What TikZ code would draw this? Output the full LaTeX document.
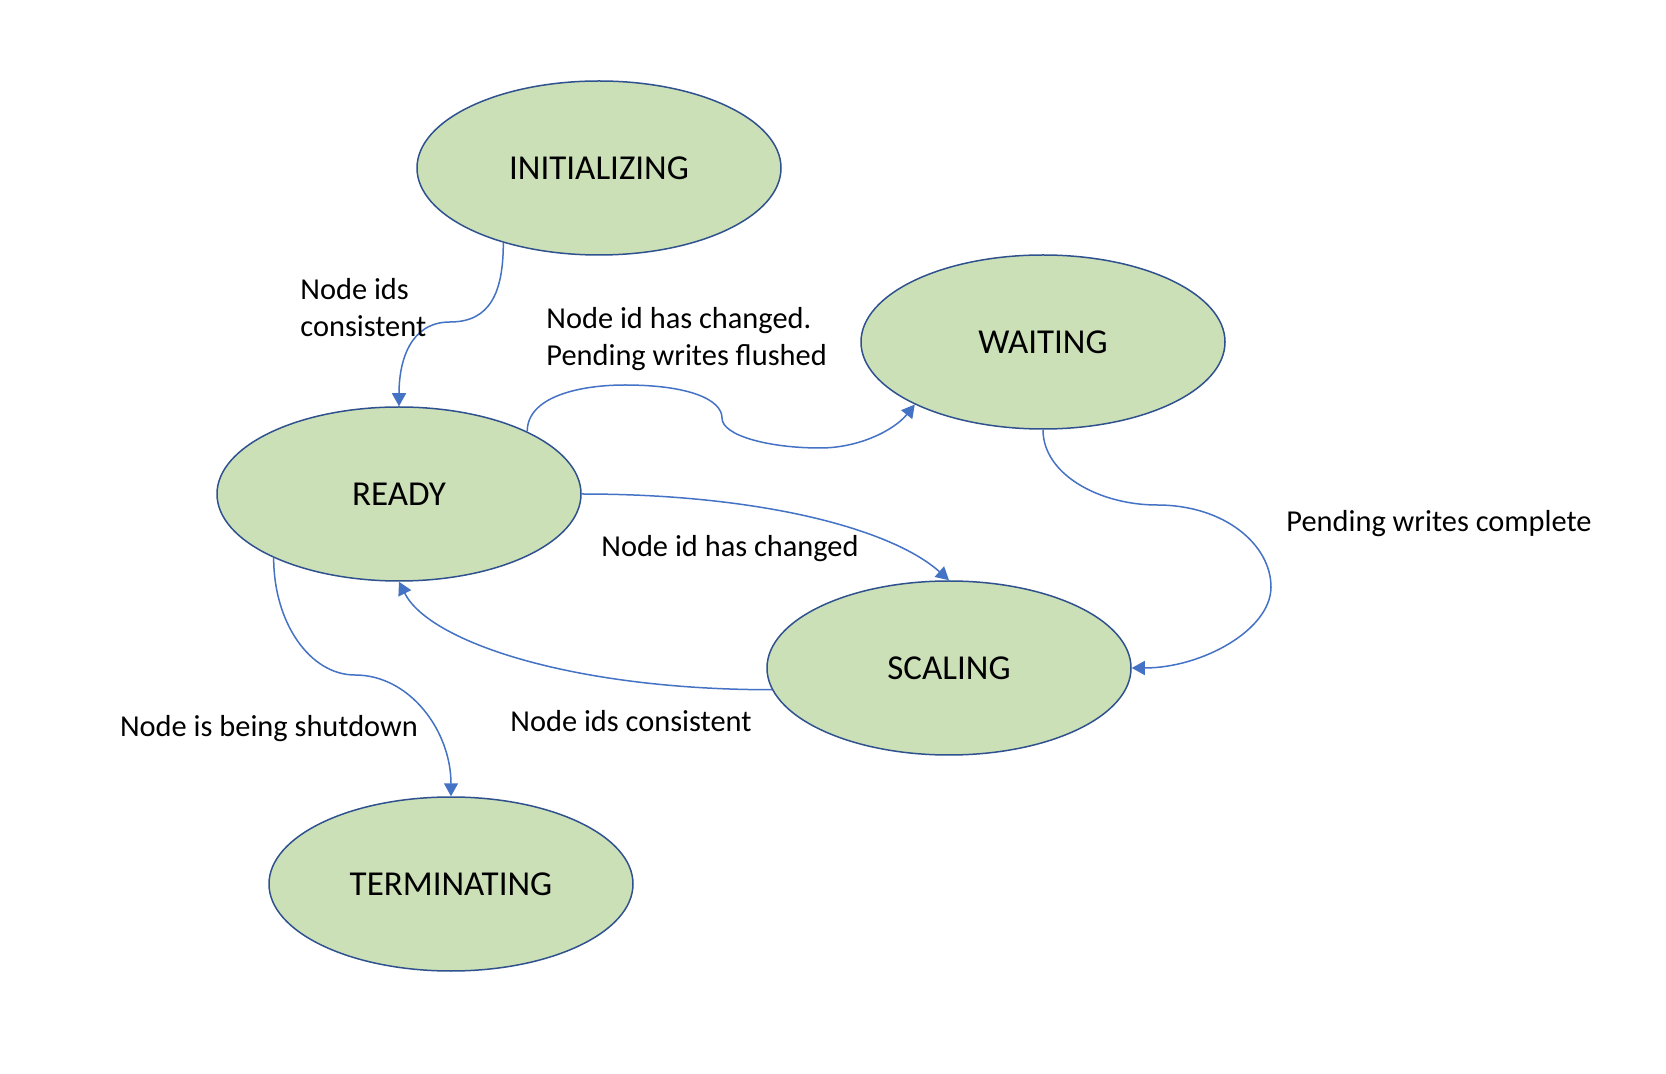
\documentclass[tikz,border=0pt]{standalone}
\usepackage{fontspec}
\setmainfont{Carlito}
\usetikzlibrary{arrows.meta,shapes.geometric}
\definecolor{stfill}{RGB}{204,224,184}
\definecolor{stline}{RGB}{47,82,143}
\definecolor{cline}{RGB}{68,114,196}
\begin{document}
\begin{tikzpicture}[x=0.5pt,y=-0.5pt,
 state/.style={ellipse,draw=stline,fill=stfill,line width=0.75pt,minimum width=182pt,minimum height=87pt,inner sep=0pt,font=\fontsize{17.5}{21}\selectfont},
 conn/.style={draw=cline,line width=0.75pt,-{Triangle[length=6.5pt,width=7pt]}},
 lbl/.style={font=\fontsize{15.2}{18.5}\selectfont,align=left,inner sep=0pt}]
\useasboundingbox[fill=white] (0,0) rectangle (1666,1074);

\node[state] (init) at (599,168) {INITIALIZING};
\node[state] (wait) at (1043,342) {WAITING};
\node[state] (ready) at (399,494) {READY};
\node[state] (scal) at (949,668) {SCALING};
\node[state] (term) at (451,884) {TERMINATING};

\draw[conn] (init.218) .. controls +(0,50) and +(40,0) .. (450,322) .. controls +(-40,0) and +(0,-45) .. (ready.north);
\draw[conn] (ready.26) .. controls +(0,-35) and +(-45,0) .. (625,385) .. controls +(65,0) and +(0,-18) .. (722,418) .. controls +(0,18) and +(-50,0) .. (820,448) .. controls +(40,0) and +(-20,25) .. (wait.206);
\draw[conn] (ready.east) .. controls +(180,0) and +(-57,-51) .. (scal.north);
\draw[conn] (scal.187) .. controls +(-200,0) and +(30,60) .. (ready.south);
\draw[conn] (ready.207) .. controls +(0,65) and +(-45,0) .. (355,675) .. controls +(55,0) and +(0,-65) .. (term.north);
\draw[conn] (wait.south) .. controls +(0,45) and +(-57,0) .. (1157,505) .. controls +(68,0) and +(0,-42) .. (1271,587) .. controls +(0,43) and +(70,0) .. (scal.east);

\node[lbl,anchor=west] (l1) at (300,308) {Node ids\\consistent};
\node[lbl,anchor=west] (l2) at (546,339) {Node id has changed.\\Pending writes flushed};
\node[lbl] (l3) at (730,549) {Node id has changed};
\node[lbl] (l4) at (631,721) {Node ids consistent};
\node[lbl] (l5) at (269,729) {Node is being shutdown};
\node[lbl] (l6) at (1439,524) {Pending writes complete};
\end{tikzpicture}
\end{document}
